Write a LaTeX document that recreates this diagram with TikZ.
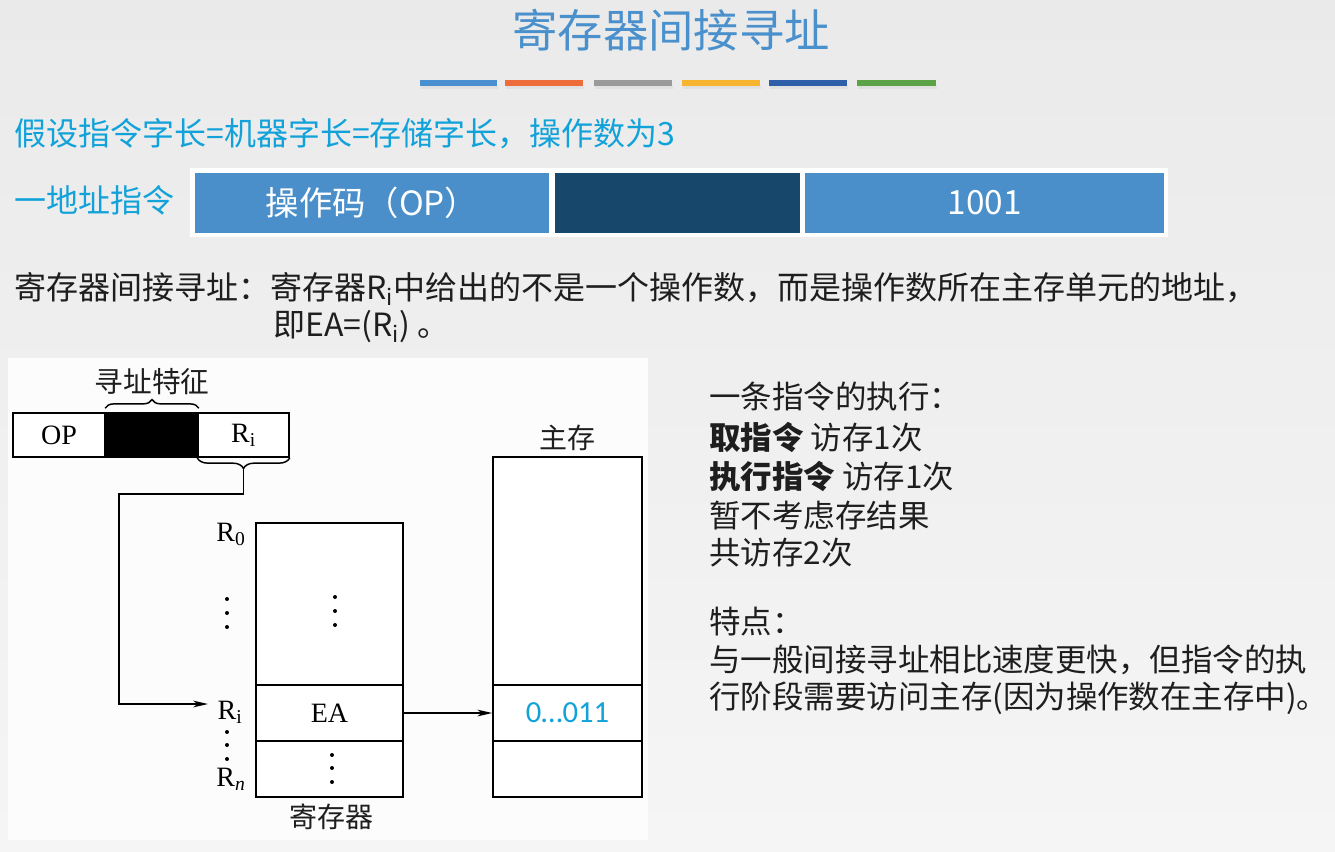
\documentclass[tikz,border=0pt]{standalone}
\usepackage{fontspec}
\setmainfont{Liberation Serif}
\newfontfamily\cjk{Noto Sans CJK SC}
\newfontfamily\calfont{Carlito}
\usetikzlibrary{arrows.meta,decorations.pathreplacing}

\definecolor{bgtop}{HTML}{EAEAEA}
\definecolor{bgbot}{HTML}{F5F5F5}
\definecolor{titleblue}{HTML}{4A90CC}
\definecolor{cyantext}{HTML}{12A2DA}
\definecolor{barblue}{HTML}{4A8FC9}
\definecolor{barnavy}{HTML}{17476B}
\definecolor{ink}{HTML}{1E1E1E}
\definecolor{stA}{HTML}{4A8FCF}
\definecolor{stB}{HTML}{EE6B3A}
\definecolor{stC}{HTML}{9A9A9A}
\definecolor{stD}{HTML}{F7B52F}
\definecolor{stE}{HTML}{2F5FA8}
\definecolor{stF}{HTML}{5BA346}

\tikzset{
  sz/.style 2 args={minimum width={#1*0.75pt}, minimum height={#2*0.75pt}},
  cjkf/.style={font=\cjk\fontsize{#1}{#1}\selectfont},
  serf/.style={font=\rmfamily\fontsize{#1}{#1}\selectfont},
  txt/.style={inner sep=0pt, text=ink},
  barcell/.style={inner sep=0pt, text=white, cjkf=25pt},
  cellb/.style={draw=black, line width=1.2pt, inner sep=0pt, fill=white, serf=21pt},
  conn/.style={draw=black, line width=1.2pt},
  tip/.style={-{Stealth[length=11pt,width=5pt,inset=3pt]}},
  bracedec/.style={decorate, line width=1.1pt,
    decoration={brace, amplitude=#1}},
  dot/.style={fill=black, draw=none, circle, inner sep=0pt, minimum size=3pt},
}

\begin{document}
\begin{tikzpicture}[x=0.75pt, y=-0.75pt]
  % page background
  \fill[top color=bgtop, bottom color=bgbot] (0,0) rectangle (1335,851);
  \useasboundingbox (0,0) rectangle (1335,851);

  % title and coloured rule
  \node[txt, text=titleblue, cjkf=34pt] (title) at (671,30) {寄存器间接寻址};
  \foreach \xa/\xb/\c in {420/497/stA, 505/583/stB, 594/672/stC,
                          682/760/stD, 769/847/stE, 857/936/stF}{
    \fill[black!12] (\xa+1,86) rectangle (\xb+1,88.5);
    \fill[\c] (\xa,80) rectangle (\xb,86);
  }

  % assumption line
  \node[txt, text=cyantext, cjkf=24pt, anchor=west] (assume) at (14,134)
    {假设指令字长=机器字长=存储字长，操作数为3};

  % one-address instruction format
  \node[txt, text=cyantext, cjkf=24pt, anchor=west] (onead) at (14,200) {一地址指令};
  \fill[white] (190,168) rectangle (1168,237);
  \node[barcell, fill=barblue, sz={354}{60}] (opbar) at (372,203) {\raisebox{-2pt}{操作码（OP）}};
  \node[barcell, fill=barnavy, sz={245}{60}] (modebar) at (677.5,203) {};
  \node[barcell, fill=barblue, sz={359}{60}] (addrbar) at (984.5,203) {\raisebox{-2pt}{1001}};

  % definition
  \node[txt, cjkf=24pt, anchor=west] (defA) at (14,289)
    {寄存器间接寻址：寄存器R\textsubscript{i}中给出的不是一个操作数，而是操作数所在主存单元的地址，};
  \node[txt, cjkf=24pt, anchor=west] (defB) at (273,327)
    {即EA=(R\textsubscript{i}) 。};

  % figure panel
  \fill[white!99!black] (8,358) rectangle (648,840);

  % instruction word in the figure
  \node[cellb, sz={92}{44}] (opc) at (59,435) {OP};
  \node[cellb, fill=black, sz={92}{44}] (feat) at (152,435) {};
  \node[cellb, sz={91}{44}] (ric) at (243.5,435) {R\textsubscript{i}};
  \draw[bracedec=6.5pt] ([yshift=3pt]feat.north west) -- ([yshift=3pt]feat.north east);
  \node[txt, cjkf=21.5pt] (featlbl) at (152,382) {寻址特征};
  \draw[bracedec=8pt] (ric.south east) -- (ric.south west);
  \coordinate (ritip) at (243.5,468);

  % register file
  \node[cellb, sz={147}{162}] (rtop) at (329.5,604) {};
  \node[cellb, sz={147}{56}] (rea) at (329.5,713) {EA};
  \node[cellb, sz={147}{56}] (rbot) at (329.5,769) {};
  \foreach \y in {597,611,625} \node[dot] at (335,\y) {};
  \foreach \y in {755,768,782} \node[dot] at (332,\y) {};
  \node[txt, serf=21pt, text=black] (rzero) at (231,534) {R\textsubscript{0}};
  \foreach \y in {599,613,627} \node[dot] at (227,\y) {};
  \node[txt, serf=21pt, text=black] (rilbl) at (230,712) {R\textsubscript{i}};
  \foreach \y in {732,745,759} \node[dot] at (227,\y) {};
  \node[txt, serf=21pt, text=black] (rnlbl) at (231,779) {R\textsubscript{\itshape n}};
  \node[txt, cjkf=21pt] (reglbl) at (331,817) {寄存器};
  \coordinate (riin) at (208,704);

  % main memory
  \node[cellb, sz={149}{228}] (mtop) at (567.5,571) {};
  \node[cellb, sz={149}{56}, text=cyantext, font=\calfont\fontsize{23pt}{23pt}\selectfont]
    (mea) at (567.5,713) {0…011};
  \node[cellb, sz={149}{56}] (mbot) at (567.5,769) {};
  \node[txt, cjkf=21pt] (memlbl) at (567,438) {主存};

  % connectors
  \draw[conn, tip] (ritip) |- (119,494) |- (riin);
  \draw[conn, tip] (rea.east) -- (mea.west);

  % notes on the right
  \foreach \y/\t in {397/{一条指令的执行：},
                     437/{\textbf{取指令} 访存1次},
                     476/{\textbf{执行指令} 访存1次},
                     515/{暂不考虑存结果},
                     553/{共访存2次},
                     622/{特点：},
                     660/{与一般间接寻址相比速度更快，但指令的执},
                     698/{行阶段需要访问主存(因为操作数在主存中)。}}
    \node[txt, cjkf=23.6pt, anchor=west] at (709,\y) {\t};
\end{tikzpicture}
\end{document}
